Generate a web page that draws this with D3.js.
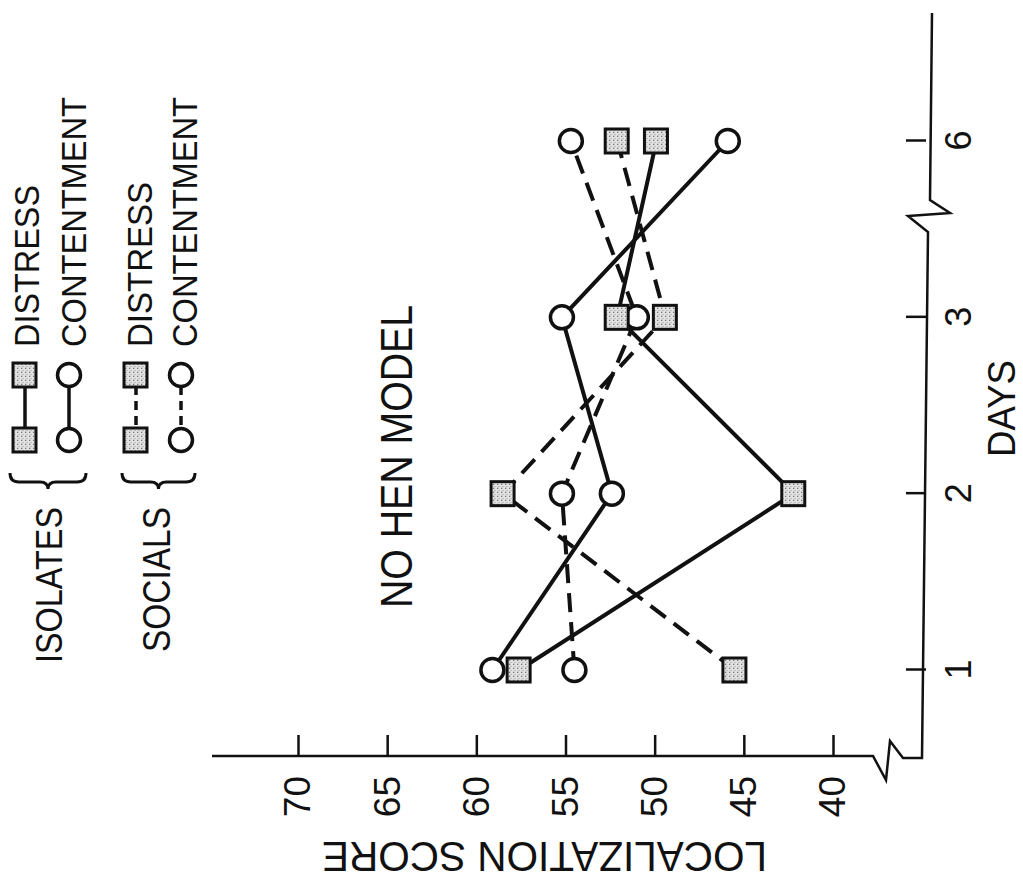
<!DOCTYPE html>
<html>
<head>
<meta charset="utf-8">
<script src="https://cdn.jsdelivr.net/npm/d3@7"></script>
<style>
body { margin: 0; background: #fff; }
svg { display: block; }
text { font-family: "Liberation Sans", Arial, sans-serif; fill: #111; }
</style>
</head>
<body>
<div id="chart"></div>
<script>
// data
var days = ["1", "2", "3", "6"];
var scoreTicks = [40, 45, 50, 55, 60, 65, 70];
var isolatesDistress = [57.6, 42.2, 52.1, 49.9];
var isolatesContentment = [59.1, 52.4, 55.2, 45.9];
var socialsDistress = [45.5, 58.5, 49.4, 52.1];
var socialsContentment = [54.5, 55.2, 51.0, 54.7];

var series = [
    {name: "isoD", values: isolatesDistress, marker: "square", dashed: false},
    {name: "isoC", values: isolatesContentment, marker: "circle", dashed: false},
    {name: "socD", values: socialsDistress, marker: "square", dashed: true},
    {name: "socC", values: socialsContentment, marker: "circle", dashed: true}
];

var W = 1023, H = 882;
var svg = d3.select("#chart").append("svg").attr("width", W).attr("height", H);

// speckled fill for the shaded squares
var pat = svg.append("defs").append("pattern")
    .attr("id", "speck").attr("width", 4).attr("height", 4)
    .attr("patternUnits", "userSpaceOnUse");
pat.append("rect").attr("width", 4).attr("height", 4).attr("fill", "#e2e2e2");
pat.append("rect").attr("x", 1).attr("y", 1).attr("width", 1.3).attr("height", 1.3).attr("fill", "#777");
pat.append("rect").attr("x", 3).attr("y", 2.5).attr("width", 1).attr("height", 1).attr("fill", "#999");

// the whole figure is printed turned a quarter turn, so draw upright and rotate
var g = svg.append("g").attr("transform", "translate(0," + H + ") rotate(-90)");

var x = d3.scalePoint().domain(days).range([212, 741]);
var y = d3.scaleLinear().domain([40, 70]).range([833, 298]);

var axisX0 = 126, axisY0 = 926;

// score axis
var ya = g.append("g")
    .attr("transform", "translate(" + axisX0 + ",0)")
    .call(d3.axisLeft(y).tickValues(scoreTicks).tickSizeInner(-21).tickSizeOuter(0).tickPadding(20));
ya.select(".domain").remove();
ya.selectAll("line").attr("stroke", "#111").attr("stroke-width", 2.5);
ya.selectAll("text").style("font-size", "37px").attr("fill", "#111");

// days axis
var xa = g.append("g")
    .attr("transform", "translate(0," + axisY0 + ")")
    .call(d3.axisBottom(x).tickSizeInner(-20).tickSizeOuter(0).tickPadding(19));
xa.select(".domain").remove();
xa.selectAll("line").attr("stroke", "#111").attr("stroke-width", 2.5);
xa.selectAll("text").style("font-size", "36px").attr("fill", "#111");

// axis lines with break marks
var axisPath = d3.line();
g.append("path")
    .attr("d", axisPath([[axisX0, 212], [axisX0, 873], [102, 886], [141, 890], [124, 903], [124, axisY0 - 4],
                         [650, axisY0 + 2], [666, 908], [669, 950], [682, axisY0 + 4], [869, axisY0 + 6]]))
    .attr("fill", "none").attr("stroke", "#111").attr("stroke-width", 2.5)
    .attr("stroke-linejoin", "miter");

// series lines
var line = d3.line()
    .x(function (d, i) { return x(days[i]); })
    .y(function (d) { return y(d); });

series.forEach(function (s) {
    g.append("path")
        .attr("d", line(s.values))
        .attr("fill", "none")
        .attr("stroke", "#111")
        .attr("stroke-width", 4)
        .attr("stroke-dasharray", s.dashed ? "19,10" : null);
});

function drawCircle(cx, cy) {
    g.append("circle").attr("cx", cx).attr("cy", cy).attr("r", 11.5)
        .attr("fill", "#fff").attr("stroke", "#111").attr("stroke-width", 3.5);
}
function drawSquare(cx, cy) {
    g.append("rect").attr("x", cx - 12).attr("y", cy - 12).attr("width", 24).attr("height", 23)
        .attr("fill", "url(#speck)").attr("stroke", "#111").attr("stroke-width", 3);
}

series.filter(function (s) { return s.marker === "circle"; }).forEach(function (s) {
    s.values.forEach(function (v, i) { drawCircle(x(days[i]), y(v)); });
});
series.filter(function (s) { return s.marker === "square"; }).forEach(function (s) {
    s.values.forEach(function (v, i) { drawSquare(x(days[i]), y(v)); });
});

// text helper: upright text from x0 to x1, cap centred on cy
function label(txt, x0, x1, cy, cap) {
    g.append("text")
        .attr("x", x0).attr("y", cy + cap / 2)
        .attr("textLength", x1 - x0).attr("lengthAdjust", "spacingAndGlyphs")
        .style("font-size", (cap / 0.716) + "px")
        .text(txt);
}

label("NO HEN MODEL", 274, 577, 396, 32);
label("DAYS", 425, 522, 1001, 28);

// score title, turned
g.append("text")
    .attr("transform", "translate(24.5,544.5) rotate(-90)")
    .attr("y", 15.5)
    .attr("text-anchor", "middle")
    .attr("textLength", 445).attr("lengthAdjust", "spacingAndGlyphs")
    .style("font-size", "43px")
    .text("LOCALIZATION SCORE");

// legend
var legendRows = [
    {oy: 25, marker: "square", dashed: false, text: "DISTRESS", tx: 26.5, end: 697},
    {oy: 69, marker: "circle", dashed: false, text: "CONTENTMENT", tx: 73.5, end: 785},
    {oy: 136, marker: "square", dashed: true, text: "DISTRESS", tx: 139.5, end: 700},
    {oy: 181, marker: "circle", dashed: true, text: "CONTENTMENT", tx: 184.5, end: 785}
];
legendRows.forEach(function (r) {
    g.append("line").attr("x1", 442).attr("x2", 507).attr("y1", r.oy).attr("y2", r.oy)
        .attr("stroke", "#111").attr("stroke-width", 3.5)
        .attr("stroke-dasharray", r.dashed ? "9,6" : null);
    if (r.marker === "circle") { drawCircle(442, r.oy); drawCircle(507, r.oy); }
    else { drawSquare(442, r.oy); drawSquare(507, r.oy); }
    label(r.text, 535, r.end, r.tx, 25);
});

label("ISOLATES", 219, 375, 48.5, 27);
label("SOCIALS", 230, 375, 156, 28);

function brace(y0, y1) {
    var m = (y0 + y1) / 2;
    return "M409," + y0 + " Q400," + y0 + " 400," + (y0 + 9) +
        " L400," + (m - 8) + " Q400," + m + " 393," + m +
        " Q400," + m + " 400," + (m + 8) +
        " L400," + (y1 - 9) + " Q400," + y1 + " 409," + y1;
}
g.append("path").attr("d", brace(10, 86)).attr("fill", "none").attr("stroke", "#111").attr("stroke-width", 3);
g.append("path").attr("d", brace(122, 195)).attr("fill", "none").attr("stroke", "#111").attr("stroke-width", 3);
</script>
</body>
</html>
